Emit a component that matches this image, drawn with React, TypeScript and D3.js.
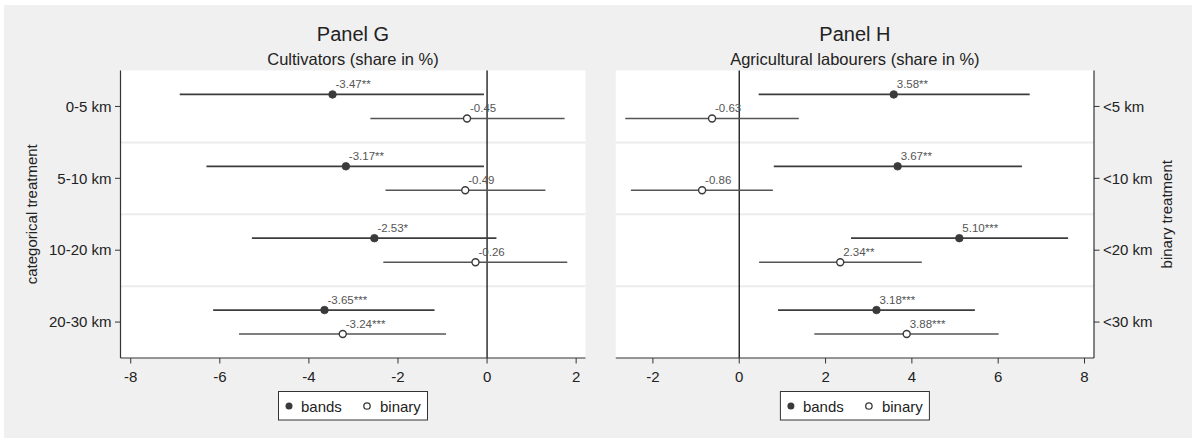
import React from "react";
import * as d3 from "d3";

const W = 1192;
const H = 440;

const categoriesG = ["0-5 km", "5-10 km", "10-20 km", "20-30 km"];
const categoriesH = ["<5 km", "<10 km", "<20 km", "<30 km"];

const gBandsCoef = [-3.47, -3.17, -2.53, -3.65];
const gBandsLo = [-6.9, -6.3, -5.28, -6.15];
const gBandsHi = [-0.07, -0.07, 0.21, -1.18];
const gBandsLabel = ["-3.47**", "-3.17**", "-2.53*", "-3.65***"];

const gBinaryCoef = [-0.45, -0.49, -0.26, -3.24];
const gBinaryLo = [-2.62, -2.28, -2.33, -5.57];
const gBinaryHi = [1.74, 1.31, 1.8, -0.92];
const gBinaryLabel = ["-0.45", "-0.49", "-0.26", "-3.24***"];

const hBandsCoef = [3.58, 3.67, 5.1, 3.18];
const hBandsLo = [0.45, 0.8, 2.59, 0.9];
const hBandsHi = [6.73, 6.55, 7.62, 5.46];
const hBandsLabel = ["3.58**", "3.67**", "5.10***", "3.18***"];

const hBinaryCoef = [-0.63, -0.86, 2.34, 3.88];
const hBinaryLo = [-2.64, -2.51, 0.46, 1.74];
const hBinaryHi = [1.38, 0.78, 4.23, 6.01];
const hBinaryLabel = ["-0.63", "-0.86", "2.34**", "3.88***"];

const gTicks = [-8, -6, -4, -2, 0, 2];
const hTicks = [-2, 0, 2, 4, 6, 8];

const FONT = "'Liberation Sans', Arial, Helvetica, sans-serif";

type Series = { coef: number[]; lo: number[]; hi: number[]; label: string[] };

type PanelProps = {
  title: string;
  subtitle: string;
  left: number;
  right: number;
  xDomain: [number, number];
  ticks: number[];
  cats: string[];
  axisSide: "left" | "right";
  axisTitle: string;
  bands: Series;
  binary: Series;
};

const TOP = 70.5;
const BOTTOM = 358;

function Panel(p: PanelProps) {
  const x = d3.scaleLinear().domain(p.xDomain).range([p.left, p.right]);
  const y = d3.scaleLinear().domain([0.5, 4.5]).range([TOP, BOTTOM]);
  const off = 1 / 6;
  const cx = (p.left + p.right) / 2;
  const axisX = p.axisSide === "left" ? p.left : p.right;
  const dir = p.axisSide === "left" ? -1 : 1;
  const seps = [1.5, 2.5, 3.5];
  const dark = "#333";

  const drawSeries = (s: Series, dy: number, filled: boolean) =>
    s.coef.map((c, i) => {
      const yy = y(i + 1) + dy;
      return (
        <g key={(filled ? "b" : "n") + i}>
          <line
            x1={x(s.lo[i])}
            x2={x(s.hi[i])}
            y1={yy}
            y2={yy}
            stroke={filled ? "#3c3c3c" : "#555"}
            strokeWidth={filled ? 1.7 : 1.5}
          />
          <circle
            cx={x(c)}
            cy={yy}
            r={filled ? 3.8 : 3.5}
            fill={filled ? "#3a3a3a" : "#fff"}
            stroke="#3a3a3a"
            strokeWidth={filled ? 0.8 : 1.4}
          />
          <text
            x={x(c) + 3}
            y={yy - 6}
            fontSize={11.5}
            fill="#555"
            fontFamily={FONT}
          >
            {s.label[i]}
          </text>
        </g>
      );
    });

  const legW = 149;
  const legX = cx - legW / 2;
  const legY = 391.5;

  return (
    <g>
      <text x={cx} y={41} textAnchor="middle" fontSize={20} fill="#222" fontFamily={FONT}>
        {p.title}
      </text>
      <text x={cx} y={65} textAnchor="middle" fontSize={16.5} fill="#222" fontFamily={FONT}>
        {p.subtitle}
      </text>
      <rect x={p.left} y={TOP} width={p.right - p.left} height={BOTTOM - TOP} fill="#fff" />
      {seps.map((s) => (
        <line key={s} x1={p.left} x2={p.right} y1={y(s)} y2={y(s)} stroke="#ececec" strokeWidth={2} />
      ))}
      <line x1={x(0)} x2={x(0)} y1={TOP} y2={BOTTOM} stroke="#111" strokeWidth={1.3} />
      {drawSeries(p.bands, -72 * off * 1, true)}
      {drawSeries(p.binary, 72 * off * 1, false)}
      {/* x axis */}
      <line x1={p.left} x2={p.right} y1={BOTTOM} y2={BOTTOM} stroke={dark} strokeWidth={1.2} />
      {p.ticks.map((t) => (
        <g key={t}>
          <line x1={x(t)} x2={x(t)} y1={BOTTOM} y2={BOTTOM + 5.5} stroke={dark} strokeWidth={1} />
          <text x={x(t)} y={382} textAnchor="middle" fontSize={15} fill="#222" fontFamily={FONT}>
            {t}
          </text>
        </g>
      ))}
      {/* y axis */}
      <line x1={axisX} x2={axisX} y1={TOP} y2={BOTTOM} stroke={dark} strokeWidth={1.2} />
      {p.cats.map((c, i) => (
        <g key={c}>
          <line x1={axisX} x2={axisX + dir * 5.5} y1={y(i + 1)} y2={y(i + 1)} stroke={dark} strokeWidth={1} />
          <text
            x={axisX + dir * 9}
            y={y(i + 1) + 5.3}
            textAnchor={p.axisSide === "left" ? "end" : "start"}
            fontSize={15}
            fill="#222"
            fontFamily={FONT}
          >
            {c}
          </text>
        </g>
      ))}
      <text
        transform={`translate(${p.axisSide === "left" ? 37 : 1172},${(TOP + BOTTOM) / 2}) rotate(-90)`}
        textAnchor="middle"
        fontSize={15}
        fill="#222"
        fontFamily={FONT}
      >
        {p.axisTitle}
      </text>
      {/* legend */}
      <rect x={legX} y={legY} width={legW} height={28.5} fill="#fff" stroke="#333" strokeWidth={1} />
      <circle cx={legX + 10.5} cy={legY + 14.5} r={3.5} fill="#3a3a3a" />
      <text x={legX + 22.5} y={legY + 20} fontSize={15} fill="#222" fontFamily={FONT}>
        bands
      </text>
      <circle cx={legX + 88.5} cy={legY + 14.5} r={3.2} fill="#fff" stroke="#3a3a3a" strokeWidth={1.3} />
      <text x={legX + 101.5} y={legY + 20} fontSize={15} fill="#222" fontFamily={FONT}>
        binary
      </text>
    </g>
  );
}

export default function App() {
  return (
    <svg width={W} height={H} style={{ display: "block", position: "absolute", left: 0, top: 0 }}>
      <rect x={0} y={0} width={W} height={H} fill="#fff" />
      <rect x={4} y={5} width={W - 4} height={433} fill="#f0f0f0" />
      <Panel
        title="Panel G"
        subtitle="Cultivators (share in %)"
        left={120.5}
        right={585.5}
        xDomain={[-8.23, 2.21]}
        ticks={gTicks}
        cats={categoriesG}
        axisSide="left"
        axisTitle="categorical treatment"
        bands={{ coef: gBandsCoef, lo: gBandsLo, hi: gBandsHi, label: gBandsLabel }}
        binary={{ coef: gBinaryCoef, lo: gBinaryLo, hi: gBinaryHi, label: gBinaryLabel }}
      />
      <Panel
        title="Panel H"
        subtitle="Agricultural labourers (share in %)"
        left={615.8}
        right={1094}
        xDomain={[-2.86, 8.22]}
        ticks={hTicks}
        cats={categoriesH}
        axisSide="right"
        axisTitle="binary treatment"
        bands={{ coef: hBandsCoef, lo: hBandsLo, hi: hBandsHi, label: hBandsLabel }}
        binary={{ coef: hBinaryCoef, lo: hBinaryLo, hi: hBinaryHi, label: hBinaryLabel }}
      />
    </svg>
  );
}
